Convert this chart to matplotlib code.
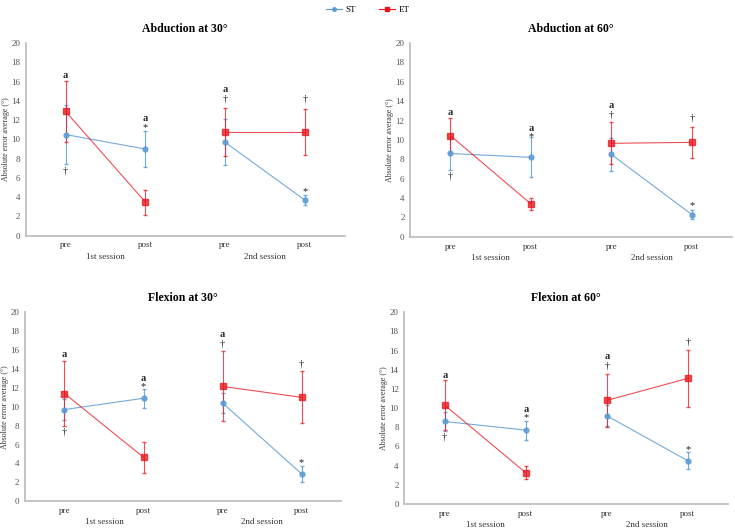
import numpy as np
import matplotlib.pyplot as plt
from matplotlib.lines import Line2D

plt.rcParams['font.family'] = ['Liberation Serif', 'DejaVu Serif']

# Data ------------------------------------------------------------------------
titles = ["Abduction at 30°", "Abduction at 60°", "Flexion at 30°", "Flexion at 60°"]
conditions = ["pre", "post", "pre", "post"]
sessions = ["1st session", "2nd session"]

st_mean = [
    [10.5, 9.0, 9.7, 3.7],
    [8.6, 8.2, 8.5, 2.3],
    [9.7, 10.9, 10.4, 2.9],
    [8.6, 7.7, 9.2, 4.5],
]
st_err = [
    [3.1, 1.9, 2.4, 0.5],
    [1.7, 2.05, 1.7, 0.45],
    [1.1, 1.0, 1.1, 0.85],
    [1.0, 1.0, 1.1, 0.9],
]
et_mean = [
    [12.9, 3.5, 10.8, 10.8],
    [10.45, 3.4, 9.65, 9.75],
    [11.4, 4.65, 12.15, 11.0],
    [10.3, 3.25, 10.8, 13.1],
]
et_err = [
    [3.2, 1.3, 2.5, 2.4],
    [1.8, 0.65, 2.15, 1.6],
    [3.4, 1.65, 3.7, 2.75],
    [2.6, 0.66, 2.8, 3.0],
]

# significance marks: (panel, category, y, text)
marks = [
    (0, 0, 16.6, "a"), (0, 0, 6.7, "†"), (0, 1, 12.2, "a"), (0, 1, 11.2, "*"),
    (0, 2, 15.2, "a"), (0, 2, 14.2, "†"), (0, 3, 14.2, "†"), (0, 3, 4.6, "*"),
    (1, 0, 12.8, "a"), (1, 0, 6.3, "†"), (1, 1, 11.2, "a"), (1, 1, 10.3, "*"),
    (1, 2, 13.6, "a"), (1, 2, 12.6, "†"), (1, 3, 12.3, "†"), (1, 3, 3.2, "*"),
    (2, 0, 15.5, "a"), (2, 0, 7.3, "†"), (2, 1, 13.0, "a"), (2, 1, 12.1, "*"),
    (2, 2, 17.6, "a"), (2, 2, 16.6, "†"), (2, 3, 14.5, "†"), (2, 3, 4.1, "*"),
    (3, 0, 13.4, "a"), (3, 0, 7.0, "†"), (3, 1, 9.9, "a"), (3, 1, 9.0, "*"),
    (3, 2, 15.4, "a"), (3, 2, 14.4, "†"), (3, 3, 16.9, "†"), (3, 3, 5.7, "*"),
]

BLUE = "#5B9BD5"
RED = "#E8141B"

# Layout ----------------------------------------------------------------------
fig = plt.figure(figsize=(7.35, 5.31), dpi=100)
rects = [
    [0.035, 0.556, 0.434, 0.363],
    [0.558, 0.554, 0.438, 0.365],
    [0.034, 0.056, 0.430, 0.356],
    [0.550, 0.051, 0.441, 0.361],
]

x = np.arange(4)
for p in range(4):
    ax = fig.add_axes(rects[p])
    for seg in (slice(0, 2), slice(2, 4)):
        ax.errorbar(x[seg], st_mean[p][seg], yerr=st_err[p][seg], color=BLUE, lw=0.8,
                    marker="o", ms=3.5, capsize=1.5, elinewidth=0.8, alpha=0.85)
        ax.errorbar(x[seg], et_mean[p][seg], yerr=et_err[p][seg], color=RED, lw=0.8,
                    marker="s", ms=4.5, capsize=1.5, elinewidth=0.8, alpha=0.75,
                    mfc=RED, mec=RED)

    for (pp, c, yy, t) in marks:
        if pp == p:
            ax.text(x[c], yy, t, ha="center", va="center", fontsize=7.5,
                    fontweight="bold" if t == "a" else "normal", color="#222222")

    ax.set_xlim(-0.5, 3.5)
    ax.set_ylim(0, 20)
    ax.set_yticks(np.arange(0, 21, 2))
    ax.set_xticks([])
    ax.tick_params(axis="y", length=0, labelsize=6.5, colors="#555555", pad=4)
    for s in ["top", "right"]:
        ax.spines[s].set_visible(False)
    for s in ["left", "bottom"]:
        ax.spines[s].set_color("#BFBFBF")
        ax.spines[s].set_linewidth(1.3)
    ax.set_ylabel("Absolute error average (°)", fontsize=5.8, color="#333333", labelpad=1)
    ax.set_title(titles[p], fontsize=8.5, fontweight="bold", pad=8)

    for c in range(4):
        ax.text(x[c], -0.05, conditions[c], transform=ax.get_xaxis_transform(),
                ha="center", va="center", fontsize=6.5, color="#333333")
    for k, sname in enumerate(sessions):
        ax.text(2 * k + 0.5, -0.11, sname, transform=ax.get_xaxis_transform(),
                ha="center", va="center", fontsize=6.5, color="#333333")

handles = [
    Line2D([], [], color=BLUE, marker="o", ms=2.5, lw=0.8),
    Line2D([], [], color=RED, marker="s", ms=2.5, lw=0.8),
]
fig.legend(handles, ["ST", "ET"], loc="upper center", bbox_to_anchor=(0.5, 1.005),
           ncol=2, frameon=False, fontsize=6.5, handlelength=1.8, columnspacing=2.5,
           handletextpad=0.4)

plt.savefig("out.png", dpi=100, facecolor="white")
plt.close()
